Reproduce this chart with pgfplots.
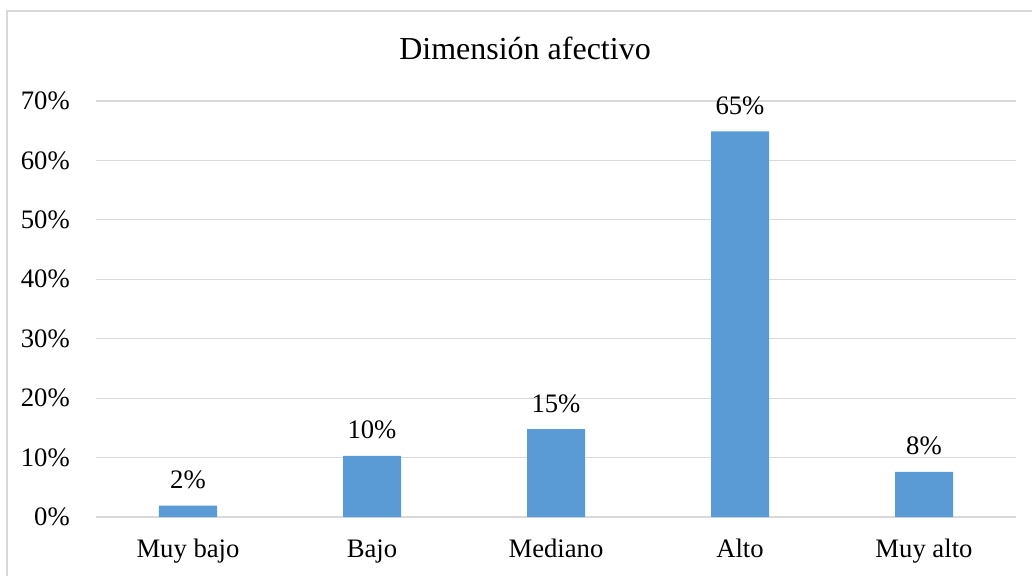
\documentclass[border=0pt]{standalone}
\usepackage{pgfplots}
\pgfplotsset{compat=1.18}
\usepackage{fontspec}
\setmainfont{Liberation Serif}
\definecolor{barblue}{HTML}{5B9BD5}
\definecolor{gridgray}{HTML}{D9D9D9}
\begin{document}
\begin{tikzpicture}[x=0.75pt,y=0.75pt]
% page = 1032x575 px, 1 px = 0.75pt, origin at plot corner (96,517)
\clip (-96,-58) rectangle (936,517);
\draw[gridgray, line width=1.5] (-89,-80) rectangle (960,506);
\node[font=\fontsize{24}{28}\selectfont, anchor=base] at (429,457) {Dimensión afectivo};
\begin{axis}[
    scale only axis,
    width=690pt, height=312pt,
    at={(0,0)}, anchor=south west,
    xmin=-0.5, xmax=4.5,
    ymin=0, ymax=70,
    ytick={0,10,...,70},
    yticklabel={\pgfmathprintnumber{\tick}\%},
    xtick={0,1,2,3,4},
    xticklabels={Muy bajo, Bajo, Mediano, Alto, Muy alto},
    axis line style={draw=none},
    major tick length=0pt,
    ymajorgrids,
    grid style={gridgray, line width=0.8pt},
    tick label style={font=\fontsize{20}{23}\selectfont},
    /pgf/number format/assume math mode=true,
    yticklabel style={anchor=east, inner sep=0pt, xshift=-19.5pt},
    xticklabel style={anchor=base, inner sep=0pt, yshift=-30pt},
    ybar, bar width=43.5pt,
    nodes near coords={\pgfmathprintnumber[fixed,precision=0]{\pgfplotspointmeta}\%},
    every node near coord/.append style={font=\fontsize{20}{23}\selectfont, anchor=base, inner sep=0pt, yshift=12.75pt},
]
\addplot[fill=barblue, draw=none] coordinates {
    (0,1.9) (1,10.3) (2,14.8) (3,64.9) (4,7.6)};
\end{axis}
\end{tikzpicture}
\end{document}
